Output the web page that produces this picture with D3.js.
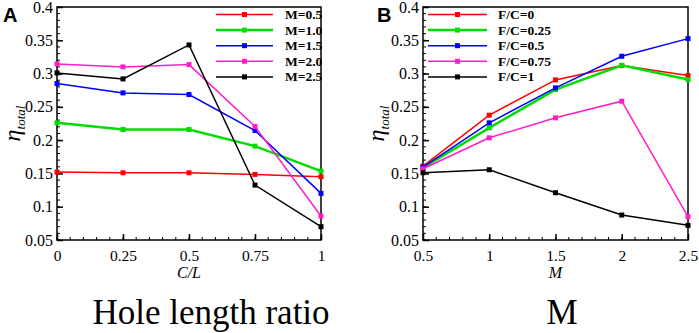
<!DOCTYPE html>
<html>
<head>
<meta charset="utf-8">
<script src="https://cdn.jsdelivr.net/npm/d3@7"></script>
<style>
	body { margin: 0; background: #fff; }
	svg { display: block; }
</style>
</head>
<body>
<svg></svg>
<script>
const svg = d3.select('svg')
	.attr('width', 699)
	.attr('height', 333);

const serif = "'Times New Roman', Times, 'Liberation Serif', serif";

// panel A: hole length ratio
const xA = [0, 0.25, 0.5, 0.75, 1];
const xTicksA = ['0', '0.25', '0.5', '0.75', '1'];
const namesA = ['M=0.5', 'M=1.0', 'M=1.5', 'M=2.0', 'M=2.5'];
const seriesA = [
	[0.152, 0.151, 0.151, 0.1485, 0.145],
	[0.226, 0.216, 0.216, 0.191, 0.1535],
	[0.285, 0.271, 0.2685, 0.2145, 0.12],
	[0.3145, 0.31, 0.3135, 0.2205, 0.086],
	[0.301, 0.292, 0.343, 0.1325, 0.07]
];

// panel B: blowing ratio M
const xB = [0.5, 1, 1.5, 2, 2.5];
const xTicksB = ['0.5', '1', '1.5', '2', '2.5'];
const namesB = ['F/C=0', 'F/C=0.25', 'F/C=0.5', 'F/C=0.75', 'F/C=1'];
const seriesB = [
	[0.161, 0.2375, 0.2905, 0.312, 0.297],
	[0.1585, 0.2185, 0.276, 0.3125, 0.291],
	[0.1595, 0.226, 0.2785, 0.326, 0.3525],
	[0.157, 0.2035, 0.2335, 0.2585, 0.085],
	[0.151, 0.1555, 0.121, 0.0875, 0.072]
];

const yTicks = ['0.05', '0.1', '0.15', '0.2', '0.25', '0.3', '0.35', '0.4'];
const colors = ['#ff0000', '#00dd00', '#0000ff', '#ff1ec8', '#000000'];
const widths = [1.5, 2.5, 1.5, 1.5, 1.5];

const plotTop = 7, plotBottom = 240;

const drawPanel = (opt) => {
	const { left, right, xs, xTickLabels, names, series, xStep, letter, letterX,
		etaX, xLabel, title, titleX, legend } = opt;

	const xScale = d3.scaleLinear()
		.domain([xs[0], xs[xs.length - 1]])
		.range([left, right]);

	const yScale = d3.scaleLinear()
		.domain([0.05, 0.4])
		.range([plotBottom, plotTop]);

	const g = svg.append('g');

	// minor ticks
	const xMinor = d3.range(xs[0], xs[xs.length - 1] + 1e-9, xStep);
	g.selectAll('.xminor').data(xMinor).join('line')
		.attr('x1', d => xScale(d)).attr('x2', d => xScale(d))
		.attr('y1', plotBottom).attr('y2', plotBottom - 3)
		.attr('stroke', '#000').attr('stroke-width', 1);
	const yMinor = d3.range(0.05, 0.4001, 0.01);
	g.selectAll('.yminor').data(yMinor).join('line')
		.attr('x1', left).attr('x2', left + 3)
		.attr('y1', d => yScale(d)).attr('y2', d => yScale(d))
		.attr('stroke', '#000').attr('stroke-width', 1);

	// major ticks + labels
	const xAxis = d3.axisBottom(xScale)
		.tickValues(xs)
		.tickFormat((d, i) => xTickLabels[i])
		.tickSize(-6)
		.tickPadding(10);
	const xAxisG = g.append('g')
		.attr('transform', `translate(0,${plotBottom})`)
		.attr('font-family', null)
		.call(xAxis);
	xAxisG.attr('font-family', serif).attr('font-size', 15.5);
	xAxisG.select('.domain').remove();
	xAxisG.selectAll('line').attr('stroke-width', 1.5);
	xAxisG.selectAll('text')
		.style('font-family', serif)
		.style('font-size', '15.5px').attr('fill', '#000');

	const yAxis = d3.axisLeft(yScale)
		.tickValues(yTicks.map(Number))
		.tickFormat((d, i) => yTicks[i])
		.tickSize(-6)
		.tickPadding(4);
	const yAxisG = g.append('g')
		.attr('transform', `translate(${left},0)`)
		.call(yAxis);
	yAxisG.attr('font-family', serif).attr('font-size', 16);
	yAxisG.select('.domain').remove();
	yAxisG.selectAll('line').attr('stroke-width', 1.5);
	yAxisG.selectAll('text')
		.style('font-family', serif)
		.style('font-size', '16px').attr('fill', '#000');

	// frame
	g.append('rect')
		.attr('x', left).attr('y', plotTop)
		.attr('width', right - left).attr('height', plotBottom - plotTop)
		.attr('fill', 'none').attr('stroke', '#000').attr('stroke-width', 1.5);

	// lines
	const line = d3.line()
		.x((d, i) => xScale(xs[i]))
		.y(d => yScale(d));

	series.forEach((s, k) => {
		g.append('path')
			.attr('d', line(s))
			.attr('fill', 'none')
			.attr('stroke', colors[k])
			.attr('stroke-width', widths[k]);
		g.selectAll(null).data(s).join('rect')
			.attr('x', (d, i) => xScale(xs[i]) - 2.5)
			.attr('y', d => yScale(d) - 2.5)
			.attr('width', 5).attr('height', 5)
			.attr('fill', colors[k]);
	});

	// legend
	names.forEach((n, k) => {
		const ly = 14.5 + k * 15.6;
		g.append('line')
			.attr('x1', legend.x1).attr('x2', legend.x2)
			.attr('y1', ly).attr('y2', ly)
			.attr('stroke', colors[k]).attr('stroke-width', widths[k]);
		g.append('rect')
			.attr('x', (legend.x1 + legend.x2) / 2 - 2.5).attr('y', ly - 2.5)
			.attr('width', 5).attr('height', 5)
			.attr('fill', colors[k]);
		g.append('text')
			.attr('x', legend.tx).attr('y', ly + 4.5)
			.style('font-family', serif)
			.style('font-size', '13.5px').style('font-weight', 'bold')
			.text(n);
	});

	// panel letter
	svg.append('text')
		.attr('x', letterX).attr('y', 22)
		.style('font-family', "'Liberation Sans', Arial, sans-serif")
		.style('font-size', '20px').style('font-weight', 'bold')
		.text(letter);

	// y label
	const eta = svg.append('text')
		.attr('transform', `translate(${etaX},${(plotTop + plotBottom) / 2}) rotate(-90)`)
		.attr('text-anchor', 'middle')
		.style('font-family', serif)
		.style('font-style', 'italic');
	eta.append('tspan').style('font-size', '24px').text('η');
	eta.append('tspan').style('font-size', '13px').attr('dy', 5).text('total');

	// x label
	svg.append('text')
		.attr('x', (left + right) / 2).attr('y', 278)
		.attr('text-anchor', 'middle')
		.style('font-family', serif)
		.style('font-size', '16px').style('font-style', 'italic')
		.text(xLabel);

	// caption
	svg.append('text')
		.attr('x', titleX).attr('y', 324)
		.attr('text-anchor', 'middle')
		.style('font-family', serif)
		.style('font-size', '35px')
		.text(title);
};

drawPanel({
	left: 57, right: 321, xs: xA, xTickLabels: xTicksA, names: namesA, series: seriesA,
	xStep: 0.05, letter: 'A', letterX: 3, etaX: 20, xLabel: 'C/L',
	title: 'Hole length ratio', titleX: 211,
	legend: { x1: 216, x2: 273, tx: 285 }
});

drawPanel({
	left: 423, right: 688, xs: xB, xTickLabels: xTicksB, names: namesB, series: seriesB,
	xStep: 0.1, letter: 'B', letterX: 377, etaX: 384, xLabel: 'M',
	title: 'M', titleX: 562,
	legend: { x1: 428, x2: 487, tx: 498 }
});
</script>
</body>
</html>
